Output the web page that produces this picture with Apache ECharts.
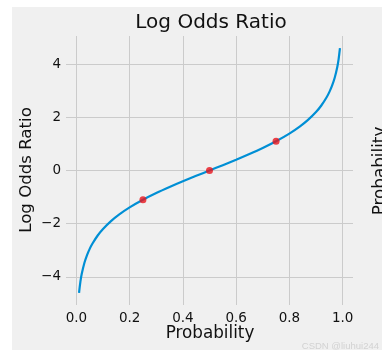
<!DOCTYPE html>
<html>
<head>
<meta charset="utf-8">
<style>
  html, body { margin: 0; padding: 0; background: #ffffff; }
  #chart { width: 382px; height: 358px; }
</style>
<script src="https://cdn.jsdelivr.net/npm/echarts@6/dist/echarts.min.js"></script>
</head>
<body>
<div id="chart"></div>
<script>
// Curve (probability -> log odds)
const probs = [0.01, 0.015, 0.02, 0.03, 0.04, 0.05, 0.06, 0.08, 0.10, 0.13, 0.16, 0.20, 0.25, 0.30, 0.35, 0.40, 0.45, 0.50,
               0.55, 0.60, 0.65, 0.70, 0.75, 0.80, 0.84, 0.87, 0.90, 0.92, 0.94, 0.95, 0.96, 0.97, 0.98, 0.985, 0.99];
const logOdds = [-4.595, -4.185, -3.892, -3.476, -3.178, -2.944, -2.752, -2.442, -2.197, -1.901, -1.658, -1.386, -1.099, -0.847, -0.619, -0.405, -0.201, 0,
                 0.201, 0.405, 0.619, 0.847, 1.099, 1.386, 1.658, 1.901, 2.197, 2.442, 2.752, 2.944, 3.178, 3.476, 3.892, 4.185, 4.595];
// Highlighted points
const pointProbs = [0.25, 0.5, 0.75];
const pointLogOdds = [-1.099, 0, 1.099];
// Tick labels
const xTicks = [0.0, 0.2, 0.4, 0.6, 0.8, 1.0];
const yTicks = [-4, -2, 0, 2, 4];

const FONT = 'DejaVu Sans';
const chart = echarts.init(document.getElementById('chart'), null, { renderer: 'canvas' });

const lineData = probs.map((p, i) => [p, logOdds[i]]);
const pointData = pointProbs.map((p, i) => [p, pointLogOdds[i]]);

chart.setOption({
  backgroundColor: '#ffffff',
  animation: false,
  grid: { left: 66, right: 29, top: 36, bottom: 53, containLabel: false },
  graphic: [
    { type: 'rect', z: -10, silent: true, shape: { x: 12, y: 7, width: 370, height: 343 }, style: { fill: '#f0f0f0' } },
    { type: 'text', z: 10, style: { text: 'Log Odds Ratio', x: 211, y: 23, align: 'center', verticalAlign: 'middle', font: '20px "DejaVu Sans"', fill: '#111111' } },
    { type: 'text', z: 10, style: { text: 'Probability', x: 210, y: 334, align: 'center', verticalAlign: 'middle', font: '16.8px "DejaVu Sans"', fill: '#111111' } },
    { type: 'text', z: 10, x: 27, y: 170, rotation: Math.PI / 2, style: { text: 'Log Odds Ratio', x: 0, y: 0, align: 'center', verticalAlign: 'middle', font: '16.6px "DejaVu Sans"', fill: '#111111' } },
    { type: 'text', z: 10, x: 381, y: 171, rotation: Math.PI / 2, style: { text: 'Probability', x: 0, y: 0, align: 'center', verticalAlign: 'middle', font: '16.8px "DejaVu Sans"', fill: '#111111' } },
    { type: 'text', z: 10, style: { text: 'CSDN @liuhui244', x: 379, y: 346, align: 'right', verticalAlign: 'middle', font: '9.5px "Liberation Sans"', fill: '#d2d2d2' } }
  ],
  xAxis: {
    type: 'value',
    min: -0.039,
    max: 1.039,
    axisLine: { show: false },
    axisTick: { show: false, customValues: xTicks },
    axisLabel: {
      customValues: xTicks,
      margin: 6,
      color: '#111111',
      fontFamily: FONT,
      fontSize: 13.5,
      formatter: v => v.toFixed(1)
    },
    splitLine: { show: true, lineStyle: { color: '#cbcbcb', width: 1 } }
  },
  yAxis: {
    type: 'value',
    min: -5.054,
    max: 5.054,
    axisLine: { show: false },
    axisTick: { show: false, customValues: yTicks },
    axisLabel: {
      customValues: yTicks,
      margin: 5,
      color: '#111111',
      fontFamily: FONT,
      fontSize: 13.5,
      formatter: v => String(v).replace('-', '\u2212')
    },
    splitLine: { show: true, lineStyle: { color: '#cbcbcb', width: 1 } }
  },
  series: [
    {
      type: 'line',
      data: lineData,
      smooth: 0.3,
      showSymbol: false,
      symbol: 'none',
      lineStyle: { color: '#008fd5', width: 2.2 },
      z: 2
    },
    {
      type: 'scatter',
      data: pointData,
      symbol: 'circle',
      symbolSize: 7,
      itemStyle: { color: '#e8141c' },
      z: 3
    }
  ]
});
</script>
</body>
</html>
